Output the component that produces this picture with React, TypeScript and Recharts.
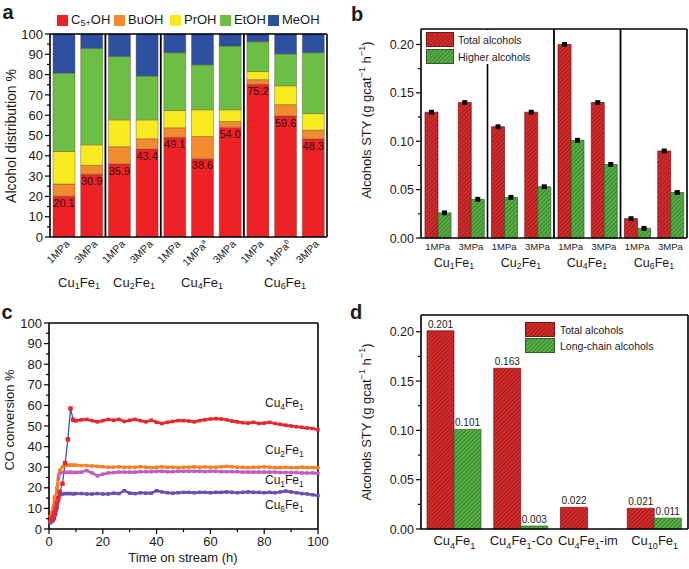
import React from "react";
import {
  BarChart,
  Bar,
  XAxis,
  YAxis,
  LabelList,
  ReferenceLine,
  ErrorBar,
  LineChart,
  Line,
} from "recharts";

const FONT = "'Liberation Sans', Arial, Helvetica, sans-serif";
const INK = "#1a1a1a";

// ---------- panel a: alcohol distribution ----------
const aIds = ["a1", "a2", "a3", "a4", "a5", "a6", "a7", "a8", "a9", "a10"];
const aPressure = ["1MPa", "3MPa", "1MPa", "3MPa", "1MPa", "1MPa", "3MPa", "1MPa", "1MPa", "3MPa"];
const aNote = ["", "", "", "", "", "a", "", "", "b", ""];
const aGroups = ["Cu_1Fe_1", "Cu_2Fe_1", "Cu_4Fe_1", "Cu_6Fe_1"];
const aC5 = [20.1, 30.9, 35.9, 43.4, 49.1, 38.6, 54.0, 75.2, 59.6, 48.3];
const aBu = [6.0, 4.4, 8.6, 5.0, 4.7, 10.9, 2.9, 2.3, 5.6, 4.3];
const aPr = [16.0, 10.1, 13.2, 9.3, 8.5, 13.2, 5.8, 4.0, 9.3, 8.2];
const aEt = [38.6, 47.5, 31.2, 21.6, 28.5, 22.1, 31.4, 14.7, 15.7, 30.0];
const aMe = [19.3, 7.1, 11.1, 20.7, 9.2, 15.2, 5.9, 3.8, 9.8, 9.2];
const aSeries = [
  { key: "c5", name: "C_5+OH", color: "#EC2227" },
  { key: "bu", name: "BuOH", color: "#F28A2E" },
  { key: "pr", name: "PrOH", color: "#F7EA1E" },
  { key: "et", name: "EtOH", color: "#6DBE45" },
  { key: "me", name: "MeOH", color: "#2D50A0" },
];
const aYTicks = [0, 5, 10, 15, 20, 25, 30, 35, 40, 45, 50, 55, 60, 65, 70, 75, 80, 85, 90, 95, 100];
const aYMajor = [0, 10, 20, 30, 40, 50, 60, 70, 80, 90, 100];

// ---------- panel b: STY by pressure ----------
const bIds = ["b1", "b2", "b3", "b4", "b5", "b6", "b7", "b8"];
const bPressure = ["1MPa", "3MPa", "1MPa", "3MPa", "1MPa", "3MPa", "1MPa", "3MPa"];
const bGroups = ["Cu_1Fe_1", "Cu_2Fe_1", "Cu_4Fe_1", "Cu_6Fe_1"];
const bTotal = [0.13, 0.14, 0.115, 0.13, 0.2, 0.14, 0.02, 0.09];
const bHigher = [0.026, 0.04, 0.042, 0.053, 0.101, 0.076, 0.01, 0.047];
const bTotalErr = [0.0025, 0.0025, 0.0025, 0.0025, 0.0025, 0.0025, 0.0025, 0.0025];
const bHigherErr = [0.0025, 0.0025, 0.0025, 0.0025, 0.0025, 0.0025, 0.0025, 0.0025];
const styTicks = [0, 0.025, 0.05, 0.075, 0.1, 0.125, 0.15, 0.175, 0.2];
const styMajor = [0, 0.05, 0.1, 0.15, 0.2];

// ---------- panel c: CO conversion vs time ----------
const cTime = [0.5, 1, 1.5, 2, 2.5, 3, 3.5, 4, 5, 6, 7, 8, 9, 10,
  12, 14, 16, 18, 20, 22, 24, 26, 28, 30, 32, 34, 36, 38, 40, 42, 44, 46, 48, 50,
  52, 54, 56, 58, 60, 62, 64, 66, 68, 70, 72, 74, 76, 78, 80, 82, 84, 86, 88, 90,
  92, 94, 96, 98, 100];
const cCu4 = [4.5, 5, 6, 8, 10, 12.5, 15, 18, 22, 32, 43.5, 58.5, 53, 52.5,
  53, 53.2, 52.6, 52, 52.6, 53.2, 52.8, 53.2, 52.2, 52.8, 53.2, 52.6, 52, 52.8, 51.8, 51.2, 51.8, 52.2, 52.6, 52.6,
  52.4, 52, 52.6, 53, 53.4, 53.6, 53.4, 53, 52.4, 52, 51.6, 51.4, 51.8, 51.2, 51.4, 51.8, 51.2, 50.8, 50.4, 50,
  49.6, 49.4, 49, 48.8, 48.2];
const cCu2 = [6, 8, 10, 15.5, 16, 20, 26, 28.5, 30.2, 30.8, 31, 31, 31, 31,
  30.8, 30.8, 30.6, 30.4, 30.2, 30, 30, 30.2, 30, 30, 30, 30.2, 30, 29.8, 30, 30.2, 30, 30, 29.8, 30,
  30, 30.2, 30, 30.2, 30, 30, 30.2, 30.4, 30.2, 30, 30, 29.8, 30, 30, 30.2, 30, 29.8, 29.8, 30, 29.8,
  29.8, 30, 29.8, 29.8, 29.8];
const cCu1 = [4, 5, 7.5, 11, 15, 20, 24.5, 27, 27.5, 27.5, 27.5, 27.6, 27.5, 27.5,
  27.6, 28.4, 27.2, 25.8, 26.6, 27.2, 27.4, 27.6, 27.6, 27.6, 27.6, 27.8, 27.8, 27.8, 28, 28, 27.8, 27.8, 28, 28,
  28, 28, 28, 27.8, 28, 28, 27.8, 27.8, 27.8, 27.8, 27.6, 27.6, 27.6, 27.6, 27.6, 27.6, 27.6, 27.4, 27.4, 27.4,
  27.4, 27.2, 27.2, 27.2, 27];
const cCu6 = [3, 3.5, 4, 5, 7, 10, 14, 16.5, 17, 17.2, 17.2, 17.2, 17, 17.2,
  17.2, 17, 17, 17.2, 17, 17, 17.4, 17.2, 18.6, 17.4, 17.2, 17.6, 17.4, 17.4, 18.6, 18, 17.6, 17.4, 17.6, 17.8,
  17.8, 17.6, 17.8, 17.8, 17.6, 17.8, 17.8, 18, 17.8, 17.6, 17.8, 18, 17.8, 17.8, 17.6, 17.8, 17.6, 18, 18.4, 18,
  17.6, 17.2, 17, 16.6, 16.2];
const cPeakTime = 9;
const cXTicks = [0, 10, 20, 30, 40, 50, 60, 70, 80, 90, 100];
const cXMajor = [0, 20, 40, 60, 80, 100];
const cLabels = ["Cu_4Fe_1", "Cu_2Fe_1", "Cu_1Fe_1", "Cu_6Fe_1"];

// ---------- panel d: catalyst comparison ----------
const dIds = ["d1", "d2", "d3", "d4"];
const dNames = ["Cu_4Fe_1", "Cu_4Fe_1-Co", "Cu_4Fe_1-im", "Cu_10Fe_1"];
const dTotal = [0.201, 0.163, 0.022, 0.021];
const dLong = [0.101, 0.003, null, 0.011];

const aData = aIds.map((id, i) => ({ id, c5: aC5[i], bu: aBu[i], pr: aPr[i], et: aEt[i], me: aMe[i] }));
const bData = bIds.map((id, i) => ({
  id,
  total: bTotal[i],
  higher: bHigher[i],
  totalErr: bTotalErr[i],
  higherErr: bHigherErr[i],
}));
const cData = cTime.map((t, i) => ({
  t,
  cu4: t >= cPeakTime ? cCu4[i] : null,
  cu4Rise: t <= cPeakTime ? cCu4[i] : null,
  cu2: cCu2[i],
  cu1: cCu1[i],
  cu6: cCu6[i],
}));
const dData = dIds.map((id, i) => ({ id, total: dTotal[i], long: dLong[i] }));

const RED_H = "url(#hatchRed)";
const GREEN_H = "url(#hatchGreen)";

const near = (list: number[], v: number) => list.some((m) => Math.abs(m - v) < 1e-9);

// svg tspans for formulas like Cu_4Fe_1 (digits after _ go down)
function chemSpans(text: string, size: number) {
  const parts = text.split(/_([0-9+]+)/);
  const shift = size * 0.3;
  let low = false;
  return parts.map((s, i) => {
    if (!s) return null;
    if (i % 2) {
      const el = (
        <tspan key={i} dy={low ? undefined : shift} fontSize={size * 0.7}>
          {s}
        </tspan>
      );
      low = true;
      return el;
    }
    const el = (
      <tspan key={i} dy={low ? -shift : undefined}>
        {s}
      </tspan>
    );
    low = false;
    return el;
  });
}

function Chem({ text }: { text: string }) {
  const parts = text.split(/_([0-9+]+)/);
  return (
    <>
      {parts.map((s, i) =>
        i % 2 ? (
          <sub key={i} style={{ fontSize: "0.7em", verticalAlign: "-0.3em", lineHeight: 0 }}>
            {s}
          </sub>
        ) : (
          <span key={i}>{s}</span>
        )
      )}
    </>
  );
}

function leftTick(major: number[], fmt: (v: number) => string, size: number) {
  return (p: any) => {
    const v = p.payload.value;
    const isMajor = near(major, v);
    return (
      <g>
        <line x1={p.x} x2={p.x - (isMajor ? 5 : 3)} y1={p.y} y2={p.y} stroke="#000" strokeWidth={1.2} />
        {isMajor && (
          <text x={p.x - 7} y={p.y} dy="0.36em" textAnchor="end" fontSize={size} fontFamily={FONT} fill={INK}>
            {fmt(v)}
          </text>
        )}
      </g>
    );
  };
}

function bottomTick(major: number[], size: number) {
  return (p: any) => {
    const v = p.payload.value;
    const isMajor = near(major, v);
    return (
      <g>
        <line x1={p.x} x2={p.x} y1={p.y} y2={p.y + (isMajor ? 5 : 3)} stroke="#000" strokeWidth={1.2} />
        {isMajor && (
          <text x={p.x} y={p.y + 7} dy="0.8em" textAnchor="middle" fontSize={size} fontFamily={FONT} fill={INK}>
            {v}
          </text>
        )}
      </g>
    );
  };
}

const PressureTickA = (p: any) => {
  const i = aIds.indexOf(p.payload.value);
  return (
    <g transform={`translate(${p.x + 4},${p.y + 5})`}>
      <text transform="rotate(-45)" textAnchor="end" dy="0.35em" fontSize={10.5} fontFamily={FONT} fill={INK}>
        {aPressure[i]}
        {aNote[i] ? (
          <tspan dy={-4} fontSize={7}>
            {aNote[i]}
          </tspan>
        ) : null}
      </text>
    </g>
  );
};

const PressureTickB = (p: any) => {
  const i = bIds.indexOf(p.payload.value);
  return (
    <text x={p.x} y={p.y + 5} dy="0.75em" textAnchor="middle" fontSize={9.5} fontFamily={FONT} fill={INK}>
      {bPressure[i]}
    </text>
  );
};

const NameTickD = (p: any) => {
  const i = dIds.indexOf(p.payload.value);
  return (
    <text x={p.x} y={p.y + 16} textAnchor="middle" fontSize={13} fontFamily={FONT} fill={INK}>
      {chemSpans(dNames[i], 13)}
    </text>
  );
};

const squareDot = (color: string, s: number) => (p: any) => {
  if (p.cx == null || p.cy == null || p.value == null) return <g key={p.key} />;
  return <rect key={p.key} x={p.cx - s / 2} y={p.cy - s / 2} width={s} height={s} fill={color} />;
};

const fmt3 = (v: any) => (v == null ? "" : Number(v).toFixed(3));

function Txt({ x, y, size = 13, rotate = 0, align = "center", weight = 400, children }: any) {
  const tx = align === "center" ? "-50%" : "0";
  return (
    <div
      style={{
        position: "absolute",
        left: x,
        top: y,
        transform: `translate(${tx}, -50%) rotate(${rotate}deg)`,
        fontSize: size,
        fontWeight: weight,
        whiteSpace: "nowrap",
        lineHeight: 1.15,
        color: INK,
        fontFamily: FONT,
      }}
    >
      {children}
    </div>
  );
}

function Swatch({ x, y, w, h, fill, stroke }: any) {
  return (
    <svg style={{ position: "absolute", left: x, top: y }} width={w} height={h}>
      <rect x={0.5} y={0.5} width={w - 1} height={h - 1} fill={fill} stroke={stroke} strokeWidth={1} />
    </svg>
  );
}

const axisStyle = { stroke: "#000", strokeWidth: 1.6 };

function PanelA() {
  return (
    <BarChart width={345} height={300} data={aData} margin={{ top: 34, right: 18, left: 0, bottom: 18 }} barSize={22}>
      <XAxis dataKey="id" height={45} tick={PressureTickA} tickLine={false} tickSize={0} tickMargin={0} interval={0} axisLine={axisStyle} />
      <YAxis
        width={50}
        domain={[0, 100]}
        ticks={aYTicks}
        interval={0}
        tick={leftTick(aYMajor, (v) => String(v), 13)}
        tickLine={false}
        tickSize={0}
        tickMargin={0}
        axisLine={axisStyle}
      />
      {aSeries.map((s) => (
        <Bar key={s.key} dataKey={s.key} stackId="a" fill={s.color} stroke="#5a4a3a" strokeWidth={0.4} isAnimationActive={false}>
          {s.key === "c5" && (
            <LabelList dataKey="c5" position="insideTop" offset={3} fontSize={11} fill="#3a0c0c" fontFamily={FONT} formatter={(v: any) => Number(v).toFixed(1)} />
          )}
        </Bar>
      ))}
      <ReferenceLine x="a3" position="start" stroke="#000" strokeWidth={1.8} />
      <ReferenceLine x="a5" position="start" stroke="#000" strokeWidth={1.8} />
      <ReferenceLine x="a8" position="start" stroke="#000" strokeWidth={1.8} />
      <ReferenceLine x="a10" position="end" stroke="#000" strokeWidth={1.6} />
      <ReferenceLine y={100} stroke="#000" strokeWidth={1.6} />
    </BarChart>
  );
}

function PanelB() {
  return (
    <BarChart width={344} height={300} data={bData} margin={{ top: 29, right: 2, left: 0, bottom: 42 }} barSize={13} barGap={0}>
      <XAxis dataKey="id" height={20} tick={PressureTickB} tickLine={false} tickSize={0} tickMargin={0} interval={0} axisLine={axisStyle} />
      <YAxis
        width={76}
        domain={[0, 0.216]}
        ticks={styTicks}
        interval={0}
        tick={leftTick(styMajor, (v) => v.toFixed(2), 12.5)}
        tickLine={false}
        tickSize={0}
        tickMargin={0}
        axisLine={axisStyle}
      />
      <Bar dataKey="total" fill={RED_H} stroke="#7a1414" strokeWidth={0.7} isAnimationActive={false}>
        <ErrorBar dataKey="totalErr" width={0} strokeWidth={5} stroke="#000" direction="y" />
      </Bar>
      <Bar dataKey="higher" fill={GREEN_H} stroke="#2c5f22" strokeWidth={0.7} isAnimationActive={false}>
        <ErrorBar dataKey="higherErr" width={0} strokeWidth={5} stroke="#000" direction="y" />
      </Bar>
      <ReferenceLine x="b3" position="start" stroke="#000" strokeWidth={1.6} />
      <ReferenceLine x="b5" position="start" stroke="#000" strokeWidth={1.8} />
      <ReferenceLine x="b7" position="start" stroke="#000" strokeWidth={1.8} />
      <ReferenceLine x="b8" position="end" stroke="#000" strokeWidth={1.6} />
      <ReferenceLine y={0.216} stroke="#000" strokeWidth={1.6} />
    </BarChart>
  );
}

function PanelC() {
  return (
    <LineChart width={345} height={269} data={cData} margin={{ top: 23, right: 27, left: 0, bottom: 18 }}>
      <XAxis
        dataKey="t"
        type="number"
        domain={[0, 100]}
        ticks={cXTicks}
        interval={0}
        height={22}
        tick={bottomTick(cXMajor, 13)}
        tickLine={false}
        tickSize={0}
        tickMargin={0}
        axisLine={axisStyle}
      />
      <YAxis
        width={49}
        domain={[0, 100]}
        ticks={aYTicks}
        interval={0}
        tick={leftTick(aYMajor, (v) => String(v), 13)}
        tickLine={false}
        tickSize={0}
        tickMargin={0}
        axisLine={axisStyle}
      />
      <ReferenceLine y={100} stroke="#000" strokeWidth={1.6} />
      <ReferenceLine x={100} stroke="#000" strokeWidth={1.6} />
      <Line dataKey="cu6" stroke="#6B4FAF" strokeWidth={2.6} dot={squareDot("#6B4FAF", 3.5)} isAnimationActive={false} />
      <Line dataKey="cu1" stroke="#C25CC4" strokeWidth={2.6} dot={squareDot("#C25CC4", 3.5)} isAnimationActive={false} />
      <Line dataKey="cu2" stroke="#F5821F" strokeWidth={2.6} dot={squareDot("#F5821F", 3.5)} isAnimationActive={false} />
      <Line dataKey="cu4Rise" stroke="#3557B0" strokeWidth={1.3} dot={squareDot("#E8262B", 4.5)} isAnimationActive={false} />
      <Line dataKey="cu4" stroke="#E8262B" strokeWidth={2.6} dot={squareDot("#E8262B", 3.5)} isAnimationActive={false} />
    </LineChart>
  );
}

function PanelD() {
  return (
    <BarChart width={344} height={269} data={dData} margin={{ top: 15, right: 1, left: 0, bottom: 15 }} barSize={27} barGap={0}>
      <XAxis dataKey="id" height={25} tick={NameTickD} tickLine={false} tickSize={0} tickMargin={0} interval={0} axisLine={axisStyle} />
      <YAxis
        width={76}
        domain={[0, 0.217]}
        ticks={styTicks}
        interval={0}
        tick={leftTick(styMajor, (v) => v.toFixed(2), 12.5)}
        tickLine={false}
        tickSize={0}
        tickMargin={0}
        axisLine={axisStyle}
      />
      <Bar dataKey="total" fill={RED_H} stroke="#7a1414" strokeWidth={0.7} isAnimationActive={false}>
        <LabelList dataKey="total" position="top" offset={3} fontSize={10} fill={INK} fontFamily={FONT} formatter={fmt3} />
      </Bar>
      <Bar dataKey="long" fill={GREEN_H} stroke="#2c5f22" strokeWidth={0.7} isAnimationActive={false}>
        <LabelList dataKey="long" position="top" offset={3} fontSize={10} fill={INK} fontFamily={FONT} formatter={fmt3} />
      </Bar>
      <ReferenceLine x="d4" position="end" stroke="#000" strokeWidth={1.6} />
      <ReferenceLine y={0.217} stroke="#000" strokeWidth={1.6} />
    </BarChart>
  );
}

export default function App() {
  const aLegendX = [57, 114, 170, 220, 268];
  const aGroupX = [79, 134, 202, 285];
  const bGroupX = [454, 521, 587, 654];
  const cLabelY = [404, 451, 481, 506];
  return (
    <div style={{ position: "absolute", left: 0, top: 0, width: 689, height: 569, background: "#fff", overflow: "hidden", fontFamily: FONT }}>
      <svg width={0} height={0} style={{ position: "absolute" }}>
        <defs>
          <pattern id="hatchRed" width={3} height={3} patternUnits="userSpaceOnUse" patternTransform="rotate(45)">
            <rect width={3} height={3} fill="#D42C2C" />
            <line x1={0.5} y1={0} x2={0.5} y2={3} stroke="#A11C1E" strokeWidth={1} />
          </pattern>
          <pattern id="hatchGreen" width={3} height={3} patternUnits="userSpaceOnUse" patternTransform="rotate(45)">
            <rect width={3} height={3} fill="#58AE45" />
            <line x1={0.5} y1={0} x2={0.5} y2={3} stroke="#3A8530" strokeWidth={1} />
          </pattern>
        </defs>
      </svg>

      <div style={{ position: "absolute", left: 0, top: 0 }}>
        <PanelA />
      </div>
      <div style={{ position: "absolute", left: 345, top: 0 }}>
        <PanelB />
      </div>
      <div style={{ position: "absolute", left: 0, top: 300 }}>
        <PanelC />
      </div>
      <div style={{ position: "absolute", left: 345, top: 300 }}>
        <PanelD />
      </div>

      {/* panel letters */}
      <Txt x={8} y={12} size={20} weight={700}>a</Txt>
      <Txt x={357} y={14} size={20} weight={700}>b</Txt>
      <Txt x={7} y={312} size={20} weight={700}>c</Txt>
      <Txt x={356} y={312} size={20} weight={700}>d</Txt>

      {/* panel a legend, titles, groups */}
      {aSeries.map((s, i) => (
        <React.Fragment key={s.key}>
          <div style={{ position: "absolute", left: aLegendX[i], top: 15, width: 11, height: 11, background: s.color }} />
          <Txt x={aLegendX[i] + 14} y={20} size={13} align="left">
            <Chem text={s.name} />
          </Txt>
        </React.Fragment>
      ))}
      <Txt x={11} y={136} size={14} rotate={-90}>Alcohol distribution %</Txt>
      {aGroups.map((g, i) => (
        <Txt key={g} x={aGroupX[i]} y={283} size={13}>
          <Chem text={g} />
        </Txt>
      ))}

      {/* panel b legend, titles, groups */}
      <div style={{ position: "absolute", left: 424, top: 30, width: 108, height: 34, background: "#fff" }} />
      <Swatch x={426} y={32} w={28} h={15} fill={RED_H} stroke="#7a1414" />
      <Swatch x={426} y={49} w={28} h={15} fill={GREEN_H} stroke="#2c5f22" />
      <Txt x={458} y={40} size={10.5} align="left">Total alcohols</Txt>
      <Txt x={458} y={57} size={10.5} align="left">Higher alcohols</Txt>
      <Txt x={367} y={120} size={13} rotate={-90}>
        Alcohols STY (g gcat<sup style={{ fontSize: "0.7em", lineHeight: 0 }}>−1</sup> h<sup style={{ fontSize: "0.7em", lineHeight: 0 }}>−1</sup>)
      </Txt>
      {bGroups.map((g, i) => (
        <Txt key={g} x={bGroupX[i]} y={263} size={12.5}>
          <Chem text={g} />
        </Txt>
      ))}

      {/* panel c titles and curve labels */}
      <Txt x={10} y={420} size={13} rotate={-90}>CO conversion %</Txt>
      <Txt x={183} y={558} size={13}>Time on stream (h)</Txt>
      {cLabels.map((g, i) => (
        <Txt key={g} x={265} y={cLabelY[i]} size={12} align="left">
          <Chem text={g} />
        </Txt>
      ))}

      {/* panel d legend and title */}
      <Swatch x={525} y={322} w={30} h={15} fill={RED_H} stroke="#7a1414" />
      <Swatch x={525} y={338} w={30} h={15} fill={GREEN_H} stroke="#2c5f22" />
      <Txt x={560} y={330} size={10.5} align="left">Total alcohols</Txt>
      <Txt x={560} y={346} size={10.5} align="left">Long-chain alcohols</Txt>
      <Txt x={367} y={422} size={13} rotate={-90}>
        Alcohols STY (g gcat<sup style={{ fontSize: "0.7em", lineHeight: 0 }}>−1</sup> h<sup style={{ fontSize: "0.7em", lineHeight: 0 }}>−1</sup>)
      </Txt>
    </div>
  );
}
